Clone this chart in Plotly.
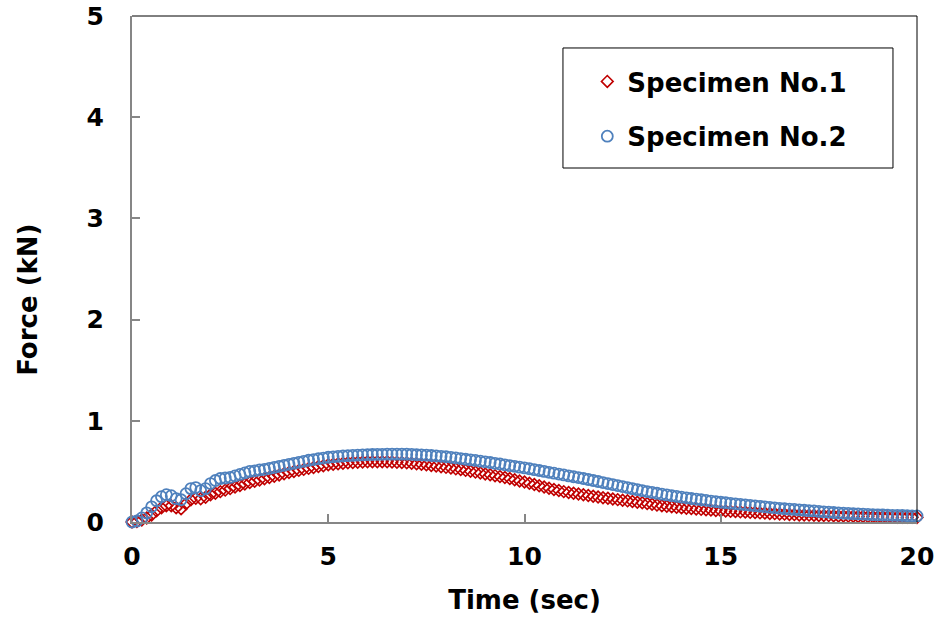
import plotly.graph_objects as go

# force readings (kN), one sample every 0.125 s from 0 to 20 s
TIME_STEP = 0.125

force_no1 = [
    0.00, 0.005, 0.02, 0.04, 0.07, 0.11, 0.14, 0.16,
    0.16, 0.14, 0.13, 0.18, 0.22, 0.235, 0.23, 0.245,
    0.27, 0.285, 0.30, 0.315, 0.33, 0.345, 0.36, 0.375,
    0.39, 0.402, 0.415, 0.427, 0.44, 0.452, 0.465, 0.477,
    0.49, 0.50, 0.51, 0.52, 0.53, 0.539, 0.548, 0.556,
    0.565, 0.57, 0.575, 0.58, 0.585, 0.588, 0.59, 0.593,
    0.595, 0.596, 0.596, 0.596, 0.595, 0.593, 0.59, 0.588,
    0.585, 0.58, 0.575, 0.57, 0.565, 0.559, 0.553, 0.546,
    0.54, 0.533, 0.525, 0.518, 0.51, 0.501, 0.493, 0.484,
    0.475, 0.466, 0.458, 0.449, 0.44, 0.429, 0.418, 0.406,
    0.395, 0.383, 0.37, 0.358, 0.345, 0.334, 0.322, 0.311,
    0.30, 0.292, 0.285, 0.277, 0.27, 0.262, 0.255, 0.247,
    0.24, 0.234, 0.228, 0.221, 0.215, 0.209, 0.203, 0.196,
    0.19, 0.182, 0.175, 0.167, 0.16, 0.155, 0.15, 0.145,
    0.14, 0.136, 0.133, 0.129, 0.125, 0.121, 0.118, 0.114,
    0.11, 0.108, 0.105, 0.103, 0.10, 0.098, 0.095, 0.093,
    0.09, 0.088, 0.085, 0.083, 0.08, 0.078, 0.075, 0.073,
    0.07, 0.069, 0.068, 0.066, 0.065, 0.064, 0.063, 0.061,
    0.06, 0.059, 0.058, 0.056, 0.055, 0.054, 0.053, 0.051,
    0.05, 0.049, 0.049, 0.048, 0.047, 0.047, 0.046, 0.046,
    0.045,
]

force_no2 = [
    0.00, 0.01, 0.04, 0.09, 0.15, 0.21, 0.25, 0.27,
    0.26, 0.23, 0.22, 0.28, 0.33, 0.34, 0.31, 0.33,
    0.38, 0.41, 0.43, 0.435, 0.44, 0.455, 0.47, 0.485,
    0.50, 0.505, 0.515, 0.52, 0.53, 0.54, 0.55, 0.56,
    0.57, 0.58, 0.59, 0.60, 0.61, 0.617, 0.625, 0.632,
    0.64, 0.644, 0.648, 0.652, 0.655, 0.658, 0.66, 0.663,
    0.665, 0.667, 0.668, 0.669, 0.67, 0.67, 0.67, 0.67,
    0.67, 0.668, 0.665, 0.663, 0.66, 0.657, 0.653, 0.649,
    0.645, 0.639, 0.633, 0.627, 0.62, 0.614, 0.608, 0.601,
    0.595, 0.588, 0.58, 0.573, 0.565, 0.557, 0.55, 0.542,
    0.535, 0.526, 0.517, 0.509, 0.50, 0.491, 0.482, 0.474,
    0.465, 0.456, 0.447, 0.439, 0.43, 0.42, 0.41, 0.40,
    0.39, 0.38, 0.37, 0.36, 0.35, 0.34, 0.33, 0.32,
    0.31, 0.301, 0.292, 0.284, 0.275, 0.268, 0.26, 0.253,
    0.245, 0.239, 0.232, 0.226, 0.22, 0.214, 0.207, 0.201,
    0.195, 0.19, 0.185, 0.18, 0.175, 0.17, 0.165, 0.16,
    0.155, 0.15, 0.145, 0.14, 0.135, 0.131, 0.127, 0.124,
    0.12, 0.116, 0.112, 0.109, 0.105, 0.101, 0.097, 0.094,
    0.09, 0.087, 0.085, 0.082, 0.08, 0.077, 0.075, 0.072,
    0.07, 0.069, 0.067, 0.066, 0.065, 0.064, 0.062, 0.061,
    0.06,
]

time_sec = [round(i * TIME_STEP, 3) for i in range(len(force_no1))]

FONT = "DejaVu Sans"
RED = "#C00000"
BLUE = "#4F81BD"
GRAY = "#868686"

fig = go.Figure()

fig.add_trace(go.Scatter(
    x=time_sec, y=force_no1, mode="markers", name="<b>Specimen No.1</b>",
    legendgroup="a", cliponaxis=False,
    marker=dict(symbol="diamond-open", size=9, color=RED, line=dict(width=1.6, color=RED)),
))
fig.add_trace(go.Scatter(
    x=time_sec, y=force_no2, mode="markers", name="<b>Specimen No.2</b>",
    legendgroup="b", cliponaxis=False,
    marker=dict(symbol="circle-open", size=11, color=BLUE, line=dict(width=1.8, color=BLUE)),
))

axis_common = dict(
    showgrid=False, zeroline=False, showline=True, linecolor=GRAY, linewidth=2,
    ticks="inside", ticklen=8, tickwidth=1.5, tickcolor=GRAY, automargin=False,
    tickfont=dict(family=FONT, size=25, color="black", weight="bold"),
)

fig.update_xaxes(range=[0, 20], dtick=5, tick0=0, ticklabelstandoff=11, **axis_common)
fig.update_yaxes(range=[0, 5], dtick=1, tick0=0, ticklabelstandoff=21, **axis_common)

fig.update_layout(
    width=938, height=628,
    margin=dict(l=132, r=21, t=16, b=106, autoexpand=False),
    plot_bgcolor="white", paper_bgcolor="white",
    font=dict(family=FONT, color="black"),
    xaxis_title=dict(text="<b>Time (sec)</b>", font=dict(family=FONT, size=26), standoff=21),
    showlegend=True,
    legend=dict(
        x=0.58, y=0.917, xanchor="left", yanchor="top",
        bgcolor="rgba(0,0,0,0)", borderwidth=0,
        traceorder="grouped", tracegroupgap=18,
        font=dict(family=FONT, size=26, color="black"),
    ),
    annotations=[dict(
        text="<b>Force (kN)</b>", xref="paper", yref="paper", x=-0.1325, y=0.439,
        xanchor="center", yanchor="middle",
        textangle=-90, showarrow=False, font=dict(family=FONT, size=26, color="black"),
    )],
    shapes=[
        # black frame on the top and right sides
        dict(type="line", xref="paper", yref="paper", x0=0, x1=1, y0=1, y1=1,
             line=dict(color="black", width=1)),
        dict(type="line", xref="paper", yref="paper", x0=1, x1=1, y0=0, y1=1,
             line=dict(color="black", width=1)),
        # legend box
        dict(type="rect", xref="paper", yref="paper", x0=0.549, x1=0.9694, y0=0.6996, y1=0.9368,
             line=dict(color="black", width=1), fillcolor="white", layer="below"),
    ],
)

# drop the default 8px body margin so the figure fills the window exactly
fig.write_html("out.html", config={"displayModeBar": False},
               post_script="document.body.style.margin='0';")
